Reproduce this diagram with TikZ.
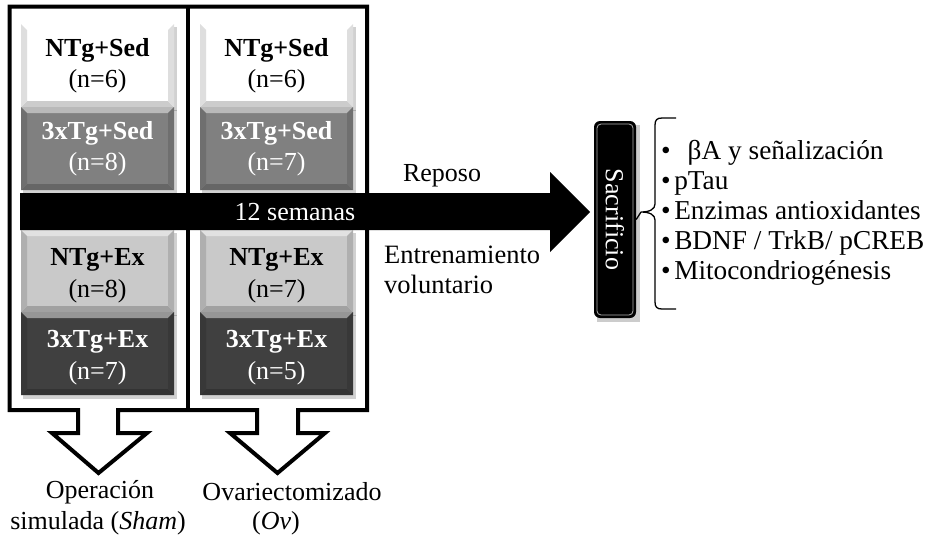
\documentclass[tikz,border=0pt]{standalone}
\usepackage{fontspec}
\setmainfont{Liberation Serif}
\usetikzlibrary{calc}
\begin{document}
\begin{tikzpicture}[x=1pt,y=-1pt,
  txt/.style={inner sep=0pt,align=center,font=\fontsize{26}{31}\selectfont},
  btxt/.style={txt,font=\fontsize{26}{31}\selectfont\bfseries},
  frame/.style={draw=black,line width=4pt,line join=miter},
  conn/.style={draw=black,line width=1.3pt}]
\useasboundingbox (0,0) rectangle (931,544);

% bevelled group box: #1,#2 = corners, #3 = base colour
\newcommand{\groupbox}[3]{%
  \path (#1) coordinate (p1) (#2) coordinate (p2);
  \fill[black,opacity=0.18] ($(p1)+(2,3)$) rectangle ($(p2)+(3,4)$);
  \fill[#3] (p1) rectangle (p2);
  \fill[#3!55!white] (p1) -- (p1 -| p2) -- ($(p1 -| p2)+(-6,6)$) -- ($(p1)+(6,6)$) -- cycle;
  \fill[#3!80!black] (p2) -- (p2 -| p1) -- ($(p2 -| p1)+(6,-6)$) -- ($(p2)+(-6,-6)$) -- cycle;
  \fill[#3!87!black] (p1) -- ($(p1)+(6,6)$) -- ($(p2 -| p1)+(6,-6)$) -- (p2 -| p1) -- cycle;
  \fill[#3!87!black] (p1 -| p2) -- ($(p1 -| p2)+(-6,6)$) -- ($(p2)+(-6,-6)$) -- (p2) -- cycle;
}

% group boxes, left column (Sham)
\groupbox{21,24}{174,107}{white}
\groupbox{21,107}{174,190}{gray}
\groupbox{21,230}{174,312}{lightgray!85!white}
\groupbox{21,312}{174,395}{darkgray}
% group boxes, right column (Ov)
\groupbox{200,24}{353,107}{white}
\groupbox{200,107}{353,190}{gray}
\groupbox{200,230}{353,312}{lightgray!85!white}
\groupbox{200,312}{353,395}{darkgray}

% outer frame with the two hollow block arrows
\path[frame] (9.5,6.5) -- (367,6.5) -- (367,410) -- (298,410) -- (298,433)
  -- (325,433) -- (277.5,473) -- (230,433) -- (257,433) -- (257,410)
  -- (118,410) -- (118,433) -- (147,433) -- (98.5,473) -- (52,433)
  -- (78,433) -- (78,410) -- (9.5,410) -- cycle;
\path[frame] (188,6.5) -- (188,410);

% group labels
\node[btxt] (a1) at (97.5,50) {NTg+Sed};
\node[txt]  (a1n) at (97.5,81) {(n=6)};
\node[btxt,text=white] (a2) at (97.5,133) {3xTg+Sed};
\node[txt,text=white]  (a2n) at (97.5,164) {(n=8)};
\node[btxt] (a3) at (97.5,260) {NTg+Ex};
\node[txt]  (a3n) at (97.5,291) {(n=8)};
\node[btxt,text=white] (a4) at (97.5,342) {3xTg+Ex};
\node[txt,text=white]  (a4n) at (97.5,373) {(n=7)};

\node[btxt] (b1) at (276.5,50) {NTg+Sed};
\node[txt]  (b1n) at (276.5,81) {(n=6)};
\node[btxt,text=white] (b2) at (276.5,133) {3xTg+Sed};
\node[txt,text=white]  (b2n) at (276.5,164) {(n=7)};
\node[btxt] (b3) at (276.5,260) {NTg+Ex};
\node[txt]  (b3n) at (276.5,291) {(n=7)};
\node[btxt,text=white] (b4) at (276.5,342) {3xTg+Ex};
\node[txt,text=white]  (b4n) at (276.5,373) {(n=5)};

% 12-week timeline arrow
\fill[black] (20,193) -- (550,193) -- (550,172) -- (590,212) -- (550,252)
  -- (550,230) -- (20,230) -- cycle;
\node[txt,text=white] (weeks) at (295,212) {12 semanas};
\node[txt] (rest) at (442,176) {Reposo};
\node[txt,align=left,anchor=west,font=\fontsize{26.5}{30}\selectfont] (train) at (384,270) {Entrenamiento\\voluntario};

% sacrifice box
\fill[black,opacity=0.2] (597,125) rectangle (640,322);
\node[fill=black,rounded corners=6pt,minimum width=42pt,minimum height=197pt,
  inner sep=0pt] (sac) at (615,219.5) {};
\draw[gray!60,line width=0.8pt,rounded corners=4pt] (597,124) rectangle (633,315);
\node[txt,text=white,rotate=-90] (sactxt) at (sac.center) {Sacrificio};

% brace and measured outcomes
\coordinate (tip) at (641,212);
\draw[conn] (sac.east) -- (tip);
\draw[conn] (676,118) -- (662,118) .. controls (657,118) and (655,120) .. (655,125)
  -- (655,204) .. controls (655,209) and (650,212) .. (tip)
  .. controls (650,212) and (655,215) .. (655,220)
  -- (655,302) .. controls (655,307) and (657,309) .. (662,309) -- (676,309);
\node[txt,align=left,anchor=west,font=\fontsize{27.3}{30}\selectfont] (list) at (661,213)
  {\textbullet\hspace{17pt}βA y señalización\\
   \textbullet\hspace{3.5pt}pTau\\
   \textbullet\hspace{3.5pt}Enzimas antioxidantes\\
   \textbullet\hspace{3.5pt}BDNF / TrkB/ pCREB\\
   \textbullet\hspace{3.5pt}Mitocondriogénesis};

% surgery labels
\node[txt] (sham1) at (100,492) {Operación};
\node[txt] (sham2) at (98,523) {simulada (\textit{Sham})};
\node[txt] (ov1) at (292,492) {Ovariectomizado};
\node[txt] (ov2) at (276,523) {(\textit{Ov})};
\end{tikzpicture}
\end{document}
